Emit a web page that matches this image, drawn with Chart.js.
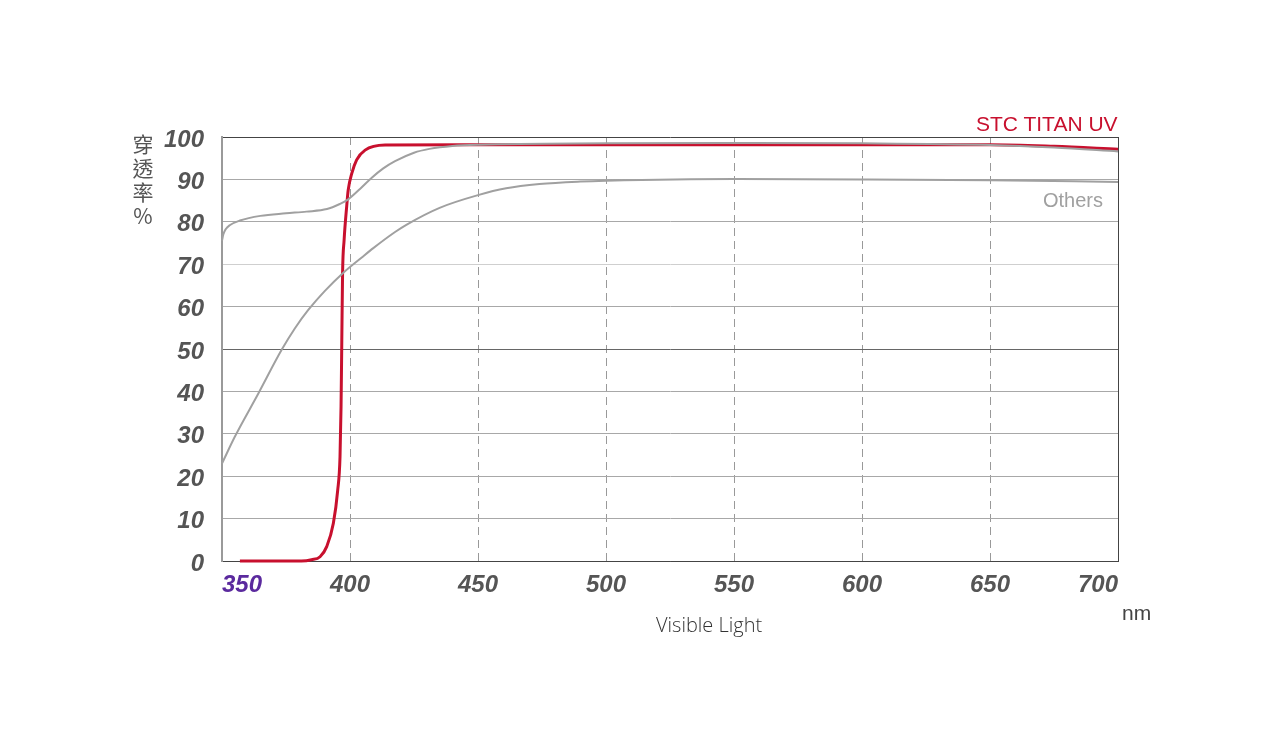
<!DOCTYPE html>
<html>
<head>
<meta charset="utf-8">
<style>
body { margin: 0; background: #fff; }
#wrap { position: relative; width: 1280px; height: 750px; }
#wrap canvas { position: absolute; left: 0; top: 0; }
.lbl { position: absolute; white-space: nowrap; line-height: 1; }
#titan { left: 976px; top: 112px; color: #c8102e; font: 21px "Liberation Sans", Arial, sans-serif; }
#others { left: 1043px; top: 189px; color: #a0a0a0; font: 20px "Liberation Sans", Arial, sans-serif; }
#nm { left: 1122px; top: 601px; color: #444; font: 21px "Liberation Sans", Arial, sans-serif; }
#xtitle { left: 656px; top: 611px; color: #333; font: 300 20px "Open Sans", "Noto Sans", sans-serif; }
#ytitle { left: 131px; top: 131px; width: 24px; color: #555; font: 21px "Noto Sans CJK TC", sans-serif; line-height: 24px; text-align: center; white-space: normal; }
</style>
</head>
<body>
<div id="wrap">
  <canvas id="chart" width="1280" height="750"></canvas>
  <div class="lbl" id="titan">STC TITAN UV</div>
  <div class="lbl" id="others">Others</div>
  <div class="lbl" id="nm">nm</div>
  <div class="lbl" id="xtitle">Visible Light</div>
  <div class="lbl" id="ytitle">穿<br>透<br>率<br>%</div>
</div>

<script src="https://cdn.jsdelivr.net/npm/chart.js"></script>
<script>
// STC TITAN UV
const titanNm = [357, 381, 385, 388.3, 390.9, 393.5, 395.2, 396.1, 396.5, 396.8, 397.1, 397.7, 398.7, 399.3, 400.7, 402.6, 405.9, 413.7, 450, 550, 650, 675, 700];
const titanT  = [0, 0, 0.3, 1, 3.4, 8.9, 16.7, 24.6, 36.4, 52.1, 67.9, 75.7, 83.6, 87.5, 91.4, 94.6, 96.9, 98.1, 98.2, 98.2, 98.2, 97.8, 97.1];

// Others (upper curve)
const otherHiNm = [350, 350.5, 351.5, 353, 357, 365, 375, 383, 391, 396, 399.3, 404, 408.5, 413, 417.6, 425, 431, 440, 451, 500, 550, 600, 650, 675, 700];
const otherHiT  = [75.5, 77, 78.3, 79.2, 80.3, 81.4, 82.0, 82.4, 83.0, 84.2, 85.3, 87.8, 90.4, 92.6, 94.3, 96.3, 97.2, 97.9, 98.2, 98.5, 98.6, 98.5, 98.1, 97.5, 96.6];

// Others (lower curve)
const otherLoNm = [350, 355, 364.2, 373.3, 378.5, 383.7, 390.2, 397.4, 404.6, 409.1, 417.6, 422, 435, 450, 461, 474, 490, 500, 550, 600, 650, 700];
const otherLoT  = [23, 29.3, 39.5, 49.8, 54.9, 59.2, 63.7, 68.0, 71.6, 73.8, 77.6, 79.3, 83.3, 86.3, 87.9, 88.9, 89.5, 89.7, 90.1, 90.0, 89.8, 89.4];

const xTicks = [350, 400, 450, 500, 550, 600, 650, 700];
const yTicks = [0, 10, 20, 30, 40, 50, 60, 70, 80, 90, 100];

function pairs(xs, ys) {
  return xs.map((x, i) => ({ x: x, y: ys[i] }));
}

const tickFont = { family: '"Liberation Sans", Arial, sans-serif', size: 24, weight: 'bold', style: 'italic' };

function yGridColor(v) {
  if (v === 0 || v === 100) return '#444';
  if (v === 50) return '#666';
  if (v === 70) return '#cfcfcf';
  return '#a8a8a8';
}

new Chart(document.getElementById('chart'), {
  type: 'line',
  data: {
    datasets: [
      { label: 'Others', data: pairs(otherLoNm, otherLoT), borderColor: '#a0a0a0', borderWidth: 2, pointRadius: 0, cubicInterpolationMode: 'monotone' },
      { label: 'Others', data: pairs(otherHiNm, otherHiT), borderColor: '#a0a0a0', borderWidth: 2, pointRadius: 0, cubicInterpolationMode: 'monotone' },
      { label: 'STC TITAN UV', data: pairs(titanNm, titanT), borderColor: '#c8102e', borderWidth: 3, pointRadius: 0, cubicInterpolationMode: 'monotone' }
    ]
  },
  options: {
    responsive: false,
    animation: false,
    clip: false,
    layout: { padding: { left: 142, right: 162, top: 137, bottom: 149 } },
    plugins: { legend: { display: false }, tooltip: { enabled: false } },
    scales: {
      x: {
        type: 'linear',
        min: 350,
        max: 700,
        afterBuildTicks: s => { s.ticks = xTicks.map(v => ({ value: v })); },
        afterFit: s => { s.height = 40; },
        ticks: {
          align: 'inner',
          padding: 10,
          font: tickFont,
          color: ctx => ctx.tick && ctx.tick.value === 350 ? '#5b2a9e' : '#555'
        },
        grid: {
          drawTicks: false,
          lineWidth: 1,
          color: ctx => {
            const v = ctx.tick ? ctx.tick.value : 0;
            if (v === 350) return 'rgba(0,0,0,0)';
            if (v === 700) return '#444';
            return '#999';
          }
        },
        border: {
          color: '#444',
          width: 1,
          dash: ctx => (ctx.tick && ctx.tick.value > 350 && ctx.tick.value < 700) ? [8, 5] : []
        }
      },
      y: {
        min: 0,
        max: 100,
        afterBuildTicks: s => { s.ticks = yTicks.map(v => ({ value: v })); },
        afterFit: s => { s.width = 80; },
        ticks: { padding: 18, labelOffset: 3, font: tickFont, color: '#555' },
        grid: {
          drawTicks: false,
          lineWidth: 1,
          color: ctx => yGridColor(ctx.tick ? ctx.tick.value : -1)
        },
        border: { color: '#9a9a9a', width: 2 }
      }
    }
  }
});
</script>
</body>
</html>
